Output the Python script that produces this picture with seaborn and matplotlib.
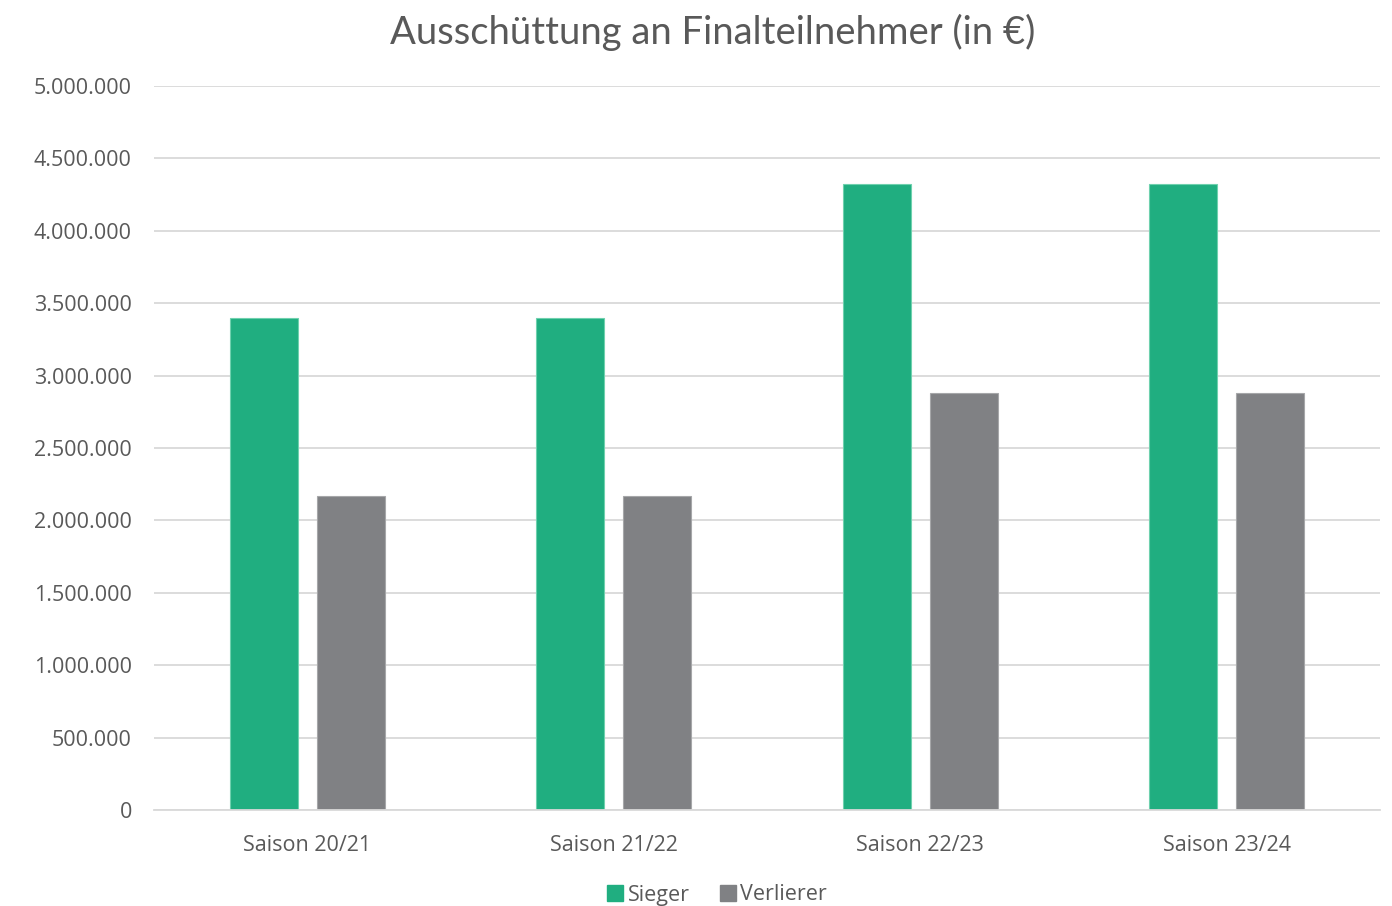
import matplotlib
matplotlib.use("Agg")
import matplotlib.pyplot as plt
import matplotlib.ticker as mticker
from matplotlib.patches import Patch
import seaborn as sns
import pandas as pd

# Prize money per finalist, by season
seasons = ["Saison 20/21", "Saison 21/22", "Saison 22/23", "Saison 23/24"]
sieger = [3400000, 3400000, 4320000, 4320000]
verlierer = [2170000, 2170000, 2880000, 2880000]
series_names = ["Sieger", "Verlierer"]
colors = ["#20AE80", "#808184"]
edge_colors = ["#6FD1AE", "#A6A7A9"]

df = pd.DataFrame({
    "Saison": seasons * 2,
    "Betrag": sieger + verlierer,
    "Rolle": [series_names[0]] * len(seasons) + [series_names[1]] * len(seasons),
})

sns.set_theme(style="white")
plt.rcParams["font.family"] = ["Open Sans", "DejaVu Sans"]
text_color = "#595959"

fig = plt.figure(figsize=(13.92, 9.06), dpi=100)
ax = fig.add_axes([154 / 1392, (906 - 810) / 906, (1380 - 154) / 1392, (810 - 86) / 906])

sns.barplot(data=df, x="Saison", y="Betrag", hue="Rolle", palette=colors,
            width=0.568, gap=0.22, ax=ax, legend=False, saturation=1)

for container, ec in zip(ax.containers, edge_colors):
    for bar in container:
        bar.set_edgecolor(ec)
        bar.set_linewidth(0.8)

ax.set_ylim(0, 5000000)
ax.set_xlim(-0.5, len(seasons) - 0.5)
ax.yaxis.set_major_locator(mticker.MultipleLocator(500000))
ax.yaxis.set_major_formatter(mticker.FuncFormatter(lambda v, p: f"{int(v):,}".replace(",", ".")))
ax.grid(axis="y", color="#D9D9D9", linewidth=1.3)
ax.set_axisbelow(True)
for s in ["top", "right", "left"]:
    ax.spines[s].set_visible(False)
ax.spines["bottom"].set_color("#D9D9D9")
ax.spines["bottom"].set_linewidth(1.3)
ax.tick_params(axis="both", length=0, labelsize=15.5, labelcolor=text_color)
ax.tick_params(axis="y", pad=16)
ax.tick_params(axis="x", pad=18)
ax.set_xlabel("")
ax.set_ylabel("")

fig.suptitle("Ausschüttung an Finalteilnehmer (in €)", x=713 / 1392, y=1 - 32 / 906,
             va="center", fontsize=27.5, color=text_color, family=["Lato", "DejaVu Sans"])

handles = [Patch(facecolor=c, edgecolor=c, label=n) for c, n in zip(colors, series_names)]
fig.legend(handles=handles, loc="center", bbox_to_anchor=(717 / 1392, 1 - 895 / 906), ncol=2,
           frameon=False, fontsize=15.5, handlelength=0.75, handleheight=0.75,
           handletextpad=0.2, columnspacing=1.4, labelcolor=text_color)

fig.savefig("out.png", dpi=100)
